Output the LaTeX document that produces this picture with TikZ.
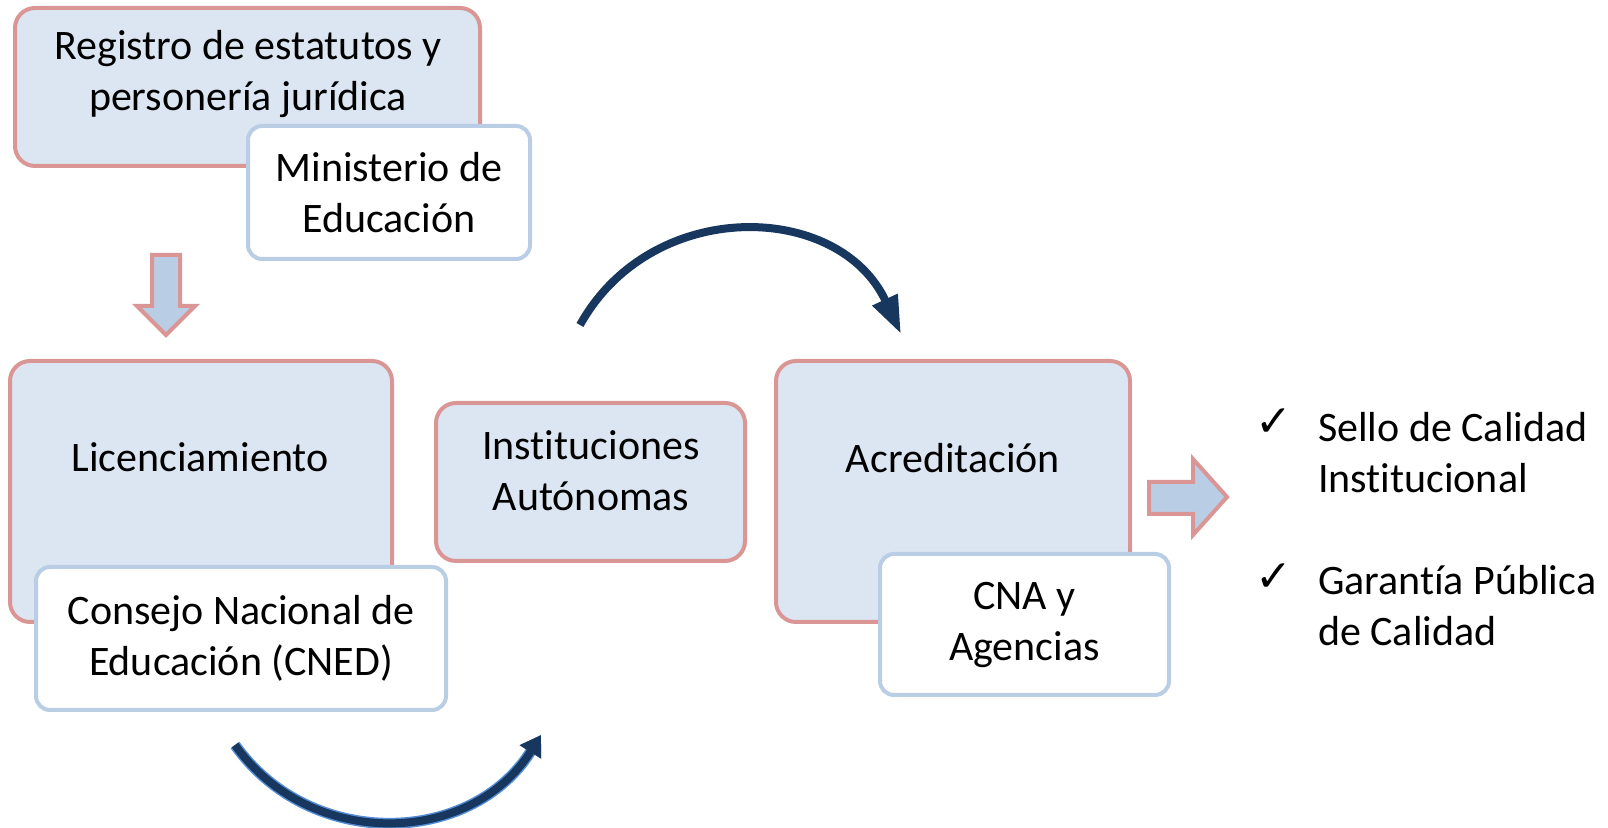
\documentclass[tikz,border=0pt]{standalone}
\usepackage{fontspec}
\setmainfont{Carlito}[Ligatures=NoCommon]
\newfontfamily\symfont{DejaVu Sans}
\usetikzlibrary{arrows.meta}
\definecolor{rosa}{HTML}{D99694}
\definecolor{celeste}{HTML}{DCE6F2}
\definecolor{azulclaro}{HTML}{B9CDE5}
\definecolor{marino}{HTML}{17375E}
\definecolor{brillo}{HTML}{558ED5}

\begin{document}
\begin{tikzpicture}[x=0.5pt, y=0.5pt,
        every node/.style={font=\fontsize{21}{25.5}\selectfont, align=center},
        etapa/.style={draw=rosa, fill=celeste, line width=2pt, rounded corners=10pt},
        agente/.style={draw=azulclaro, fill=white, line width=2pt, rounded corners=7pt},
        flecha/.style={draw=rosa, fill=azulclaro, line width=2pt, line join=miter},
        giro/.style={draw=marino, line width=4pt},
        visto/.style={font=\symfont\fontsize{22}{24}\selectfont}]
    \useasboundingbox (0,0) rectangle (1608,828);
    % registro
    \node[etapa, minimum width=232.5pt, minimum height=79pt] (reg) at (247.5,741) {};
    \node (regtxt) at (248,754) {Registro de estatutos y\\personería jurídica};
    \node[agente, minimum width=141pt, minimum height=66.5pt] (min) at (389,635.5) {Ministerio de\\Educación};
    \draw[flecha] (152,573) -- (180,573) -- (180,522) -- (195,522) -- (166,493)
        -- (137,522) -- (152,522) -- cycle;
    % licenciamiento
    \node[etapa, minimum width=191pt, minimum height=130.5pt] (lic) at (201,336.5) {};
    \node (lictxt) at (200,371) {Licenciamiento};
    \node[agente, minimum width=205pt, minimum height=71.5pt] (cned) at (241,189.5) {Consejo Nacional de\\Educación (CNED)};
    % autonomas
    \node[etapa, minimum width=154.5pt, minimum height=79pt] (inst) at (590.5,346) {};
    \node (insttxt) at (591,357) {Instituciones\\Autónomas};
    % acreditacion
    \node[etapa, minimum width=177pt, minimum height=130.5pt] (acr) at (953,336.5) {};
    \node (acrtxt) at (953,370) {Acreditación};
    \node[agente, minimum width=144.5pt, minimum height=70.5pt] (cna) at (1024.5,203.5) {CNA y\\Agencias};
    \draw[flecha] (1149,346) -- (1193,346) -- (1193,369) -- (1227,331) -- (1193,293)
        -- (1193,314) -- (1149,314) -- cycle;
    % resultados
    \node[visto] (chk1) at (1274,405) {✓};
    \node[anchor=west, align=left] (sello) at (1311,375.5) {Sello de Calidad\\Institucional};
    \node[visto] (chk2) at (1274,250) {✓};
    \node[anchor=west, align=left] (garantia) at (1311,222) {Garantía Pública\\de Calidad};
    % giros
    \coordinate (a1) at (580,503);
    \coordinate (a2) at (901,494);
    \coordinate (a3) at (235,83);
    \coordinate (a4) at (541,93);
    \draw[giro, -{Triangle[length=19pt, width=13pt]}] (a1) to[out=61, in=115, looseness=1.17] (a2);
    \draw[giro, preaction={draw=brillo, line width=5.5pt}, -{Triangle[length=10pt, width=12pt]}]
        (a3) to[out=-54.5, in=238, looseness=1.09] (a4);
\end{tikzpicture}
\end{document}
